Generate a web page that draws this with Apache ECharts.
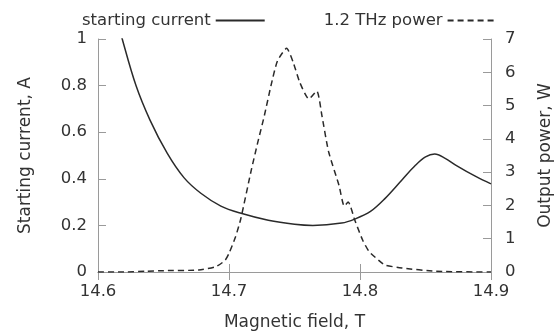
<!DOCTYPE html>
<html>
<head>
<meta charset="utf-8">
<script src="https://cdn.jsdelivr.net/npm/echarts@6/dist/echarts.min.js"></script>
<style>
  html, body { margin: 0; padding: 0; background: #fff; }
  #main { width: 554px; height: 334px; }
</style>
</head>
<body>
<div id="main"></div>
<script>
// starting current (left axis)
const fieldCurrent = [14.6, 14.61, 14.6185, 14.629, 14.6397, 14.6528, 14.6656, 14.6785, 14.6938, 14.7092, 14.73, 14.75, 14.764, 14.786, 14.796, 14.808, 14.819, 14.832, 14.8425, 14.85, 14.857, 14.865, 14.873, 14.8887, 14.9];
const currentA = [1.4, 1.18, 1.0, 0.8, 0.652, 0.51, 0.405, 0.338, 0.283, 0.252, 0.222, 0.205, 0.2, 0.21, 0.227, 0.26, 0.315, 0.395, 0.459, 0.494, 0.506, 0.488, 0.459, 0.409, 0.378];

// 1.2 THz output power (right axis)
const fieldPower = [14.6, 14.62, 14.636, 14.65, 14.677, 14.69, 14.697, 14.7, 14.705, 14.709, 14.717, 14.722, 14.727, 14.732, 14.737, 14.744, 14.749, 14.754, 14.761, 14.767, 14.771, 14.776, 14.784, 14.788, 14.791, 14.796, 14.802, 14.807, 14.814, 14.819, 14.832, 14.858, 14.9];
const powerW = [0, 0, 0.02, 0.04, 0.06, 0.16, 0.35, 0.56, 1.06, 1.6, 3.06, 3.9, 4.7, 5.59, 6.34, 6.72, 6.3, 5.7, 5.2, 5.44, 4.68, 3.62, 2.6, 1.98, 2.1, 1.56, 0.96, 0.61, 0.36, 0.21, 0.12, 0.02, 0];

const seriesNames = ['starting current', '1.2 THz power'];

const myChart = echarts.init(document.getElementById('main'));

const font = 'DejaVu Sans';
const textColor = '#333';
const boxColor = '#9a9a9a';
const labelSize = 16.5;
const nameSize = 17;

const option = {
  animation: false,
  textStyle: { fontFamily: font },
  legend: {
    left: 77,
    top: 7,
    align: 'right',
    itemWidth: 49,
    itemHeight: 14,
    itemGap: 58,
    // hide the circle that the line legend icon draws
    itemStyle: { opacity: 0 },
    textStyle: { fontFamily: font, fontSize: labelSize, color: textColor },
    data: seriesNames
  },
  grid: { left: 98, right: 63, top: 39, bottom: 62, outerBoundsMode: 'none' },
  xAxis: [
    {
      type: 'value',
      min: 14.6,
      max: 14.9,
      interval: 0.1,
      name: 'Magnetic field, T',
      nameLocation: 'middle',
      nameGap: 42,
      nameTextStyle: { fontFamily: font, fontSize: nameSize, color: textColor },
      axisLine: { lineStyle: { color: boxColor } },
      axisTick: { inside: true, length: 8, lineStyle: { color: boxColor } },
      axisLabel: {
        fontFamily: font, fontSize: labelSize, color: textColor, margin: 11,
        formatter: (v) => v.toFixed(1)
      },
      splitLine: { show: false }
    },
    {
      type: 'value',
      position: 'top',
      min: 14.6,
      max: 14.9,
      interval: 0.1,
      axisLine: { show: true, lineStyle: { color: boxColor } },
      axisTick: { inside: true, length: 8, lineStyle: { color: boxColor } },
      axisLabel: { show: false },
      splitLine: { show: false }
    }
  ],
  yAxis: [
    {
      type: 'value',
      min: 0,
      max: 1,
      interval: 0.2,
      name: 'Starting current, A',
      nameLocation: 'middle',
      nameGap: 64,
      nameTextStyle: { fontFamily: font, fontSize: nameSize, color: textColor },
      axisLine: { show: true, lineStyle: { color: boxColor } },
      axisTick: { show: true, inside: true, length: 8, lineStyle: { color: boxColor } },
      axisLabel: {
        fontFamily: font, fontSize: labelSize, color: textColor, margin: 11,
        formatter: (v) => (v === 0 || v === 1) ? String(v) : v.toFixed(1)
      },
      splitLine: { show: false }
    },
    {
      type: 'value',
      min: 0,
      max: 7,
      interval: 1,
      name: 'Output power, W',
      nameLocation: 'middle',
      nameGap: 46,
      nameTextStyle: { fontFamily: font, fontSize: nameSize, color: textColor },
      axisLine: { show: true, lineStyle: { color: boxColor } },
      axisTick: { show: true, inside: true, length: 8, lineStyle: { color: boxColor } },
      axisLabel: { fontFamily: font, fontSize: labelSize, color: textColor, margin: 14 },
      splitLine: { show: false }
    }
  ],
  series: [
    {
      name: seriesNames[0],
      type: 'line',
      yAxisIndex: 0,
      smooth: 0.35,
      symbol: 'none',
      clip: true,
      lineStyle: { color: '#2a2a2a', width: 1.5 },
      itemStyle: { color: '#2a2a2a' },
      data: fieldCurrent.map((b, i) => [b, currentA[i]])
    },
    {
      name: seriesNames[1],
      type: 'line',
      yAxisIndex: 1,
      smooth: 0.2,
      symbol: 'none',
      clip: true,
      lineStyle: { color: '#2a2a2a', width: 1.5, type: [6, 4] },
      itemStyle: { color: '#2a2a2a' },
      data: fieldPower.map((b, i) => [b, powerW[i]])
    }
  ]
};

myChart.setOption(option);
</script>
</body>
</html>
